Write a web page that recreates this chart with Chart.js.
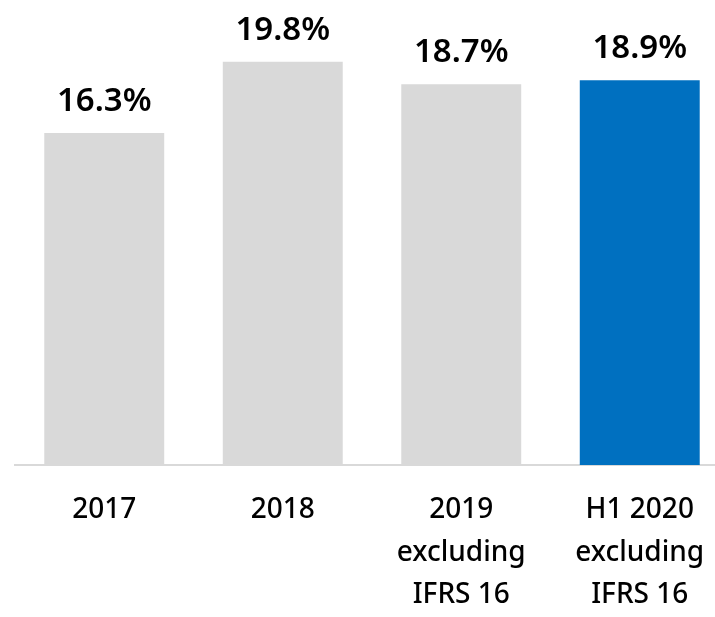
<!DOCTYPE html>
<html>
<head>
<meta charset="utf-8">
<script src="https://cdn.jsdelivr.net/npm/chart.js@4"></script>
<style>
html,body{margin:0;padding:0;background:#fff;overflow:hidden;}
canvas{display:block;}
</style>
</head>
<body>
<canvas id="c" width="731" height="617"></canvas>
<script>
const categories = [["2017"], ["2018"], ["2019", "excluding", "IFRS 16"], ["H1 2020", "excluding", "IFRS 16"]];
const values = [16.3, 19.8, 18.7, 18.9];
const valueLabels = ["16.3%", "19.8%", "18.7%", "18.9%"];
const barColors = ["#d9d9d9", "#d9d9d9", "#d9d9d9", "#0070c0"];

const valueLabelPlugin = {
  id: 'valueLabels',
  afterDatasetsDraw(chart) {
    const ctx = chart.ctx;
    const meta = chart.getDatasetMeta(0);
    ctx.save();
    ctx.font = '600 33px "Noto Sans", "Open Sans"';
    ctx.fillStyle = '#000';
    ctx.textAlign = 'center';
    ctx.textBaseline = 'alphabetic';
    meta.data.forEach((bar, i) => {
      ctx.fillText(valueLabels[i], bar.x, bar.y - 22);
    });
    ctx.restore();
  }
};

new Chart(document.getElementById('c'), {
  type: 'bar',
  data: {
    labels: categories,
    datasets: [{
      data: values,
      backgroundColor: barColors,
      borderWidth: 0,
      barPercentage: 0.672,
      categoryPercentage: 1
    }]
  },
  options: {
    responsive: false,
    animation: false,
    devicePixelRatio: 1,
    layout: { padding: { top: 17, left: 15, right: 2, bottom: 0 } },
    plugins: { legend: { display: false }, tooltip: { enabled: false } },
    scales: {
      x: {
        grid: { display: false, drawTicks: false },
        border: { display: true, color: '#d9d9d9', width: 2 },
        ticks: {
          color: '#000',
          font: { family: '"Noto Sans", "Open Sans"', size: 28, weight: '500', lineHeight: 1.52 },
          padding: 24,
          maxRotation: 0,
          autoSkip: false
        },
        afterFit(scale) { scale.height = 152; }
      },
      y: {
        display: false,
        min: 0,
        max: 22
      }
    }
  },
  plugins: [valueLabelPlugin]
});
</script>
</body>
</html>
